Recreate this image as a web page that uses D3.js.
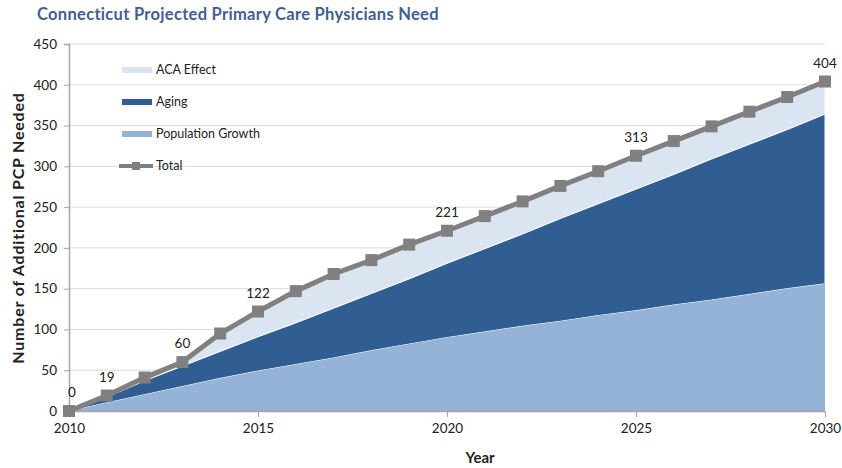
<!DOCTYPE html>
<html><head><meta charset="utf-8">
<script src="https://cdn.jsdelivr.net/npm/d3@7/dist/d3.min.js"></script>
<style>body{margin:0;background:#fff}svg{display:block}text{font-family:Lato,"Open Sans",sans-serif}</style>
</head><body><svg id="c" width="842" height="468"></svg>
<script>
const years = d3.range(2010, 2031);
const popGrowth = [0,10,20,30,40,49,57,65,74,82,90,97,104,110,117,123,130,136,143,150,156];
const aging = [0,7,17,25,33,42,51,61,70,80,91,102,113,126,137,149,160,173,184,195,208];
const total = [0,19,41,60,95,122,147,168,185,204,221,239,257,276,294,313,331,349,367,385,404];
const labelYears = [2010,2011,2013,2015,2020,2025,2030];
const yTicks = [0,50,100,150,200,250,300,350,400,450];
const xTicks = [2010,2015,2020,2025,2030];
const legendItems = ["ACA Effect","Aging","Population Growth","Total"];
const colors = {aca:"#dbe5f1", aging:"#305d92", pop:"#95b3d7", total:"#808080"};

const svg = d3.select("#c");
const m = {l:69, r:825, t:44, b:411};
const x = d3.scaleLinear().domain([2010,2030]).range([m.l, m.r]);
const y = d3.scaleLinear().domain([0,450]).range([m.b, m.t]);

// title
svg.append("text").attr("x",37).attr("y",20).attr("font-size",16.5).attr("font-weight","bold")
  .attr("letter-spacing",0.3).attr("fill","#41608e").text("Connecticut Projected Primary Care Physicians Need");

// gridlines
svg.append("g").selectAll("line").data(yTicks.slice(1)).join("line")
  .attr("x1",m.l).attr("x2",m.r).attr("y1",d=>y(d)).attr("y2",d=>y(d))
  .attr("stroke","#dcdcdc").attr("stroke-width",1);

// stacked areas
const data = years.map((yr,i)=>({yr, pop:popGrowth[i], aging:aging[i], total:total[i]}));
const areaTop = (lo, hi) => d3.area().x(d=>x(d.yr)).y0(d=>y(lo(d))).y1(d=>y(hi(d)));
svg.append("path").datum(data).attr("fill",colors.aca).attr("stroke","#fff").attr("stroke-width",1)
  .attr("d", areaTop(d=>d.pop+d.aging, d=>d.total));
svg.append("path").datum(data).attr("fill",colors.aging).attr("stroke","#fff").attr("stroke-width",1)
  .attr("d", areaTop(d=>d.pop, d=>d.pop+d.aging));
svg.append("path").datum(data).attr("fill",colors.pop)
  .attr("d", areaTop(d=>0, d=>d.pop));

// axes
const yAxis = d3.axisLeft(y).tickValues(yTicks).tickSize(5).tickPadding(7);
const gy = svg.append("g").attr("transform",`translate(${m.l},0)`).call(yAxis);
const xAxis = d3.axisBottom(x).tickValues(xTicks).tickFormat(d3.format("d")).tickSize(6).tickPadding(6);
const gx = svg.append("g").attr("transform",`translate(0,${m.b})`).call(xAxis);
[gx,gy].forEach(g=>{
  g.select(".domain").attr("stroke","#a6a6a6").attr("stroke-width",1.5);
  g.selectAll(".tick line").attr("stroke","#a6a6a6");
  g.selectAll(".tick text").attr("font-size",13.5).attr("fill","#222").attr("font-family","Lato,sans-serif");
});
gx.select(".domain").attr("d",`M${m.l},0.5H${m.r}`);

// total line
svg.append("path").datum(data).attr("fill","none").attr("stroke",colors.total).attr("stroke-width",5)
  .attr("d", d3.line().x(d=>x(d.yr)).y(d=>y(d.total)));
svg.append("g").selectAll("rect").data(data).join("rect")
  .attr("x",d=>x(d.yr)-6).attr("y",d=>y(d.total)-6).attr("width",12).attr("height",12)
  .attr("fill",colors.total);

// data labels
svg.append("g").selectAll("text").data(data.filter(d=>labelYears.includes(d.yr))).join("text")
  .attr("x",d=>x(d.yr)+(d.yr===2010?3:0)).attr("y",d=>y(d.total)-14)
  .attr("text-anchor","middle").attr("font-size",13.5).attr("fill","#222").text(d=>d.total);

// legend
const lg = svg.append("g");
const lgColors = [colors.aca, colors.aging, colors.pop, colors.total];
legendItems.forEach((name,i)=>{
  const yy = 70 + i*32;
  if (i<3) {
    lg.append("rect").attr("x",122).attr("y",yy-3).attr("width",30).attr("height",6).attr("fill",lgColors[i]);
  } else {
    lg.append("line").attr("x1",119).attr("x2",153).attr("y1",yy).attr("y2",yy)
      .attr("stroke",colors.total).attr("stroke-width",4);
    lg.append("rect").attr("x",132).attr("y",yy-4).attr("width",8).attr("height",8).attr("fill",colors.total);
  }
  lg.append("text").attr("x",156).attr("y",yy+4).attr("font-size",12.5).attr("fill","#222").text(name);
});

// axis titles
svg.append("text").attr("x",480).attr("y",463).attr("text-anchor","middle").attr("font-size",15)
  .attr("font-weight","bold").attr("fill","#222").text("Year");
svg.append("text").attr("transform","translate(24,228) rotate(-90)").attr("text-anchor","middle")
  .attr("font-size",16).attr("letter-spacing",0.8).attr("font-weight","bold").attr("fill","#222")
  .text("Number of Additional PCP Needed");
</script></body></html>
